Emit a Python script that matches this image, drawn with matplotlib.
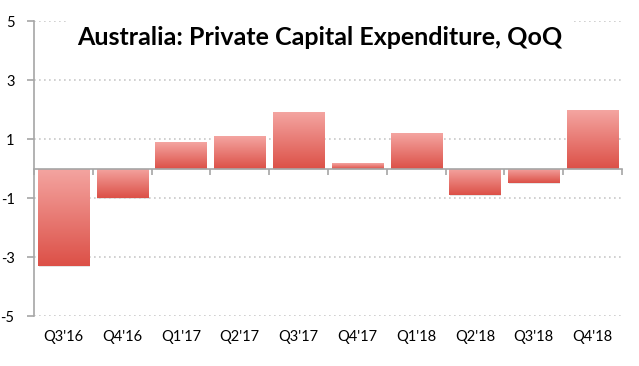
import matplotlib.pyplot as plt
import numpy as np
from matplotlib.colors import LinearSegmentedColormap
from matplotlib.patches import Rectangle
from matplotlib.transforms import blended_transform_factory

quarters = ["Q3'16", "Q4'16", "Q1'17", "Q2'17", "Q3'17",
            "Q4'17", "Q1'18", "Q2'18", "Q3'18", "Q4'18"]
capex_qoq = [-3.3, -1.0, 0.9, 1.1, 1.9, 0.2, 1.2, -0.9, -0.5, 2.0]
y_ticks = [-5, -3, -1, 1, 3, 5]

plt.rcParams["font.family"] = ["Lato", "DejaVu Sans"]

fig = plt.figure(figsize=(6.39, 3.66), dpi=100)
ax = fig.add_axes([0.0532, 0.1366, 0.92, 0.806])

# dotted grid
for y in y_ticks:
    ax.axhline(y, color="#c8c8c8", lw=1.2, ls=(0, (1, 2)), zorder=0)

grad = LinearSegmentedColormap.from_list("g", ["#dc5047", "#f4a5a1"])
img = np.linspace(0, 1, 256).reshape(-1, 1)
width = 0.87
for i, v in enumerate(capex_qoq):
    x0 = i - width / 2
    lo, hi = min(0, v), max(0, v)
    # soft shadow
    sh = Rectangle((x0 + 0.015, lo - 0.04), width, hi - lo, facecolor="#d4d4d4",
                   edgecolor="none", alpha=0.6, zorder=1)
    ax.add_patch(sh)
    r = Rectangle((x0, lo), width, hi - lo, facecolor="none", edgecolor="none", zorder=2)
    ax.add_patch(r)
    im = ax.imshow(img, cmap=grad, aspect="auto", origin="lower",
                   extent=[x0, x0 + width, lo, hi], zorder=2, interpolation="bilinear")
    im.set_clip_path(r)

ax.set_xlim(-0.5, len(quarters) - 0.5)
ax.set_ylim(-5, 5)

for s in ["top", "right"]:
    ax.spines[s].set_visible(False)
ax.spines["left"].set_color("#a6a6a6")
ax.spines["left"].set_linewidth(1.2)
ax.spines["bottom"].set_position(("data", 0))
ax.spines["bottom"].set_color("#a6a6a6")
ax.spines["bottom"].set_linewidth(1.2)
ax.spines["bottom"].set_zorder(3)

ax.set_xticks(np.arange(len(quarters) + 1) - 0.5)
ax.set_xticklabels([])
ax.tick_params(axis="x", length=4, color="#a6a6a6", width=1.2)
ax.set_yticks(y_ticks)
ax.set_yticklabels([str(t) for t in y_ticks])
ax.tick_params(axis="y", length=5, color="#a6a6a6", width=1.2, pad=9,
               labelsize=10.5)

tr = blended_transform_factory(ax.transData, ax.transAxes)
for i, q in enumerate(quarters):
    ax.text(i, -0.07, q, transform=tr, ha="center", va="center", fontsize=10.5)

ax.text(0.5, 0.897, "Australia: Private Capital Expenditure, QoQ",
        transform=fig.transFigure, ha="center", va="center", fontsize=18,
        fontweight="bold", color="black",
        bbox=dict(facecolor="white", edgecolor="none", pad=8), zorder=5)

fig.savefig("out.png", dpi=100)
